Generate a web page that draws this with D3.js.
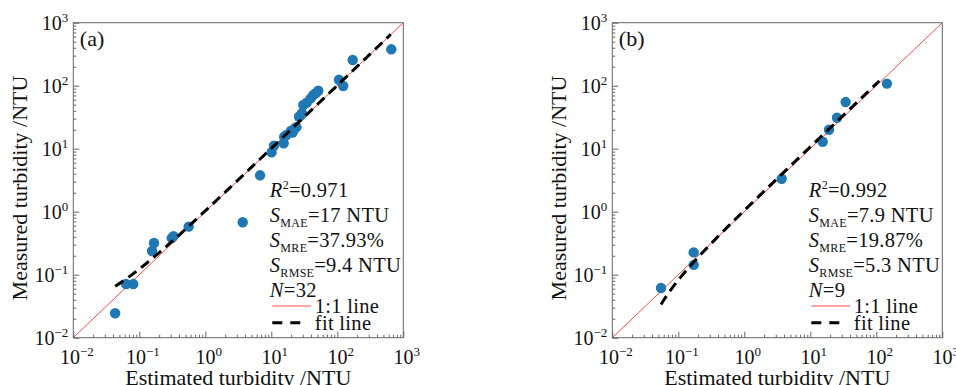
<!DOCTYPE html>
<html>
<head>
<meta charset="utf-8">
<script src="https://cdn.jsdelivr.net/npm/d3@7"></script>
<style>
  html, body { margin: 0; padding: 0; background: #fff; }
  svg { display: block; font-family: "Liberation Serif", "Times New Roman", serif; }
</style>
</head>
<body>
<svg id="chart" width="956" height="385"></svg>
<script>
// ---------------- data ----------------
const estimatedA = [0.043, 0.063, 0.081, 0.156, 0.167, 0.31, 0.33, 0.56, 3.69, 6.76,
  10.1, 11.0, 15.4, 15.7, 17.0, 19.9, 21.0, 23.1, 24.0, 26.3,
  28.0, 29.2, 30.5, 34.4, 39.5, 43.3, 47.0, 51.5, 106, 123, 171, 658];
const measuredA = [0.0244, 0.071, 0.071, 0.238, 0.318, 0.38, 0.41, 0.58, 0.68, 3.78,
  8.77, 11.2, 12.2, 15.5, 16.5, 19.3, 18.0, 21.3, 22.0, 32.2,
  34.0, 36.5, 49.4, 53.7, 63, 71, 76, 83, 124, 99, 256, 378];

const estimatedB = [0.0547, 0.171, 0.171, 3.69, 15.4, 19.2, 25.4, 34.3, 145];
const measuredB  = [0.0615, 0.226, 0.143, 3.34, 12.9, 20.0, 31.0, 55.0, 108];

// linear fit (measured = slope * estimated + intercept) and its x range
const fitA = [1.01, 0.022];
const fitRangeA = [0.043, 646];
const fitB = [1.072, -0.025];
const fitRangeB = [0.0547, 111];

const panelLabels = ["(a)", "(b)"];
const r2Values   = ["0.971", "0.992"];
const maeValues  = ["17 NTU", "7.9 NTU"];
const mreValues  = ["37.93%", "19.87%"];
const rmseValues = ["9.4 NTU", "5.3 NTU"];
const nValues    = ["32", "9"];

const axisDomain = [0.01, 1000];
const majorTicks = [0.01, 0.1, 1, 10, 100, 1000];
const tickExponents = ["\u22122", "\u22121", "0", "1", "2", "3"];
const minorMultipliers = [2, 3, 4, 5, 6, 7, 8, 9];

const xTitle = "Estimated turbidity /NTU";
const yTitle = "Measured turbidity /NTU";
const legendLabels = ["1:1 line", "fit line"];

// ---------------- layout ----------------
const svg = d3.select("#chart");
const W = 330, H = 315, TOP = 22.7;
const panels = [
  { left: 73.3, est: estimatedA, mea: measuredA, fit: fitA, fitRange: fitRangeA, i: 0 },
  { left: 612.3, est: estimatedB, mea: measuredB, fit: fitB, fitRange: fitRangeB, i: 1 }
];

const minorTicks = [];
for (let k = 0; k < majorTicks.length - 1; k++) {
  minorMultipliers.forEach(m => minorTicks.push(majorTicks[k] * m));
}

const RED = "#ff4d4d", BLUE = "#1f77b4", SPINE = "#666";

panels.forEach(p => {
  const g = svg.append("g").attr("transform", `translate(${p.left},${TOP})`);
  const x = d3.scaleLog().domain(axisDomain).range([0, W]);
  const y = d3.scaleLog().domain(axisDomain).range([H, 0]);

  const clipId = "clip" + p.i;
  g.append("clipPath").attr("id", clipId).append("rect").attr("width", W).attr("height", H);
  const plot = g.append("g").attr("clip-path", `url(#${clipId})`);

  // 1:1 line
  plot.append("line")
    .attr("x1", x(axisDomain[0])).attr("y1", y(axisDomain[0]))
    .attr("x2", x(axisDomain[1])).attr("y2", y(axisDomain[1]))
    .attr("stroke", RED).attr("stroke-width", 1);

  // points
  plot.selectAll("circle").data(p.est.map((e, j) => [e, p.mea[j]]))
    .enter().append("circle")
    .attr("cx", d => x(d[0])).attr("cy", d => y(d[1]))
    .attr("r", 5.2).attr("fill", BLUE);

  // fit line (linear fit drawn on log axes)
  const lx0 = Math.log10(p.fitRange[0]), lx1 = Math.log10(p.fitRange[1]);
  const fitPts = d3.range(0, 201).map(k => {
    const xv = Math.pow(10, lx0 + (lx1 - lx0) * k / 200);
    return [xv, p.fit[0] * xv + p.fit[1]];
  }).filter(d => d[1] > 0);
  plot.append("path")
    .attr("d", d3.line().x(d => x(d[0])).y(d => y(d[1]))(fitPts))
    .attr("fill", "none").attr("stroke", "#000").attr("stroke-width", 3)
    .attr("stroke-dasharray", "10,6");

  // frame
  g.append("rect").attr("width", W).attr("height", H)
    .attr("fill", "none").attr("stroke", SPINE).attr("stroke-width", 1);

  // axes
  const fmtLabel = (sel) => {
    sel.selectAll(".tick text").each(function(d) {
      const t = d3.select(this);
      const idx = majorTicks.indexOf(d);
      t.text(null);
      t.append("tspan").text("10");
      t.append("tspan").text(tickExponents[idx])
        .attr("font-size", "13px").attr("dy", "-0.62em");
    });
  };

  const xMajor = g.append("g").attr("transform", `translate(0,${H})`)
    .call(d3.axisBottom(x).tickValues(majorTicks).tickSizeInner(-6).tickSizeOuter(0).tickPadding(12).tickFormat(d => String(d)));
  const yMajor = g.append("g")
    .call(d3.axisLeft(y).tickValues(majorTicks).tickSizeInner(-6).tickSizeOuter(0).tickPadding(5).tickFormat(d => String(d)));
  g.append("g").attr("transform", `translate(0,${H})`)
    .call(d3.axisBottom(x).tickValues(minorTicks).tickSizeInner(-3).tickSizeOuter(0).tickFormat(""));
  g.append("g")
    .call(d3.axisLeft(y).tickValues(minorTicks).tickSizeInner(-3).tickSizeOuter(0).tickFormat(""));

  g.selectAll(".domain").remove();
  g.selectAll(".tick line").attr("stroke", SPINE);
  [xMajor, yMajor].forEach(a => a.selectAll(".tick text")
    .attr("font-family", "Liberation Serif, serif").attr("font-size", "20px").attr("fill", "#111"));
  fmtLabel(xMajor);
  fmtLabel(yMajor);
  xMajor.selectAll(".tick text").attr("dx", 3);

  // axis titles
  g.append("text").attr("x", W / 2).attr("y", 385 - TOP)
    .attr("text-anchor", "middle").attr("font-size", "22px").attr("fill", "#111")
    .text(xTitle);
  g.append("text")
    .attr("transform", `translate(-46,${188 - TOP}) rotate(-90)`)
    .attr("text-anchor", "middle").attr("font-size", "22px").attr("fill", "#111")
    .text(yTitle);

  // panel label
  g.append("text").attr("x", 6.5).attr("y", 23).attr("font-size", "22px").attr("fill", "#111")
    .text(panelLabels[p.i]);

  // statistics
  const sx = 196.5, sy0 = 174.3, dy = 25;
  const fs = "20.5px", subFs = "12px", ls = "0.3px";
  const t1 = g.append("text").attr("x", sx).attr("y", sy0).attr("font-size", fs).attr("letter-spacing", ls).attr("fill", "#111");
  t1.append("tspan").attr("font-style", "italic").text("R");
  t1.append("tspan").attr("font-size", subFs).attr("dy", "-8").text("2");
  t1.append("tspan").attr("dy", "8").text("=" + r2Values[p.i]);

  const sLines = [["MAE", maeValues[p.i]], ["MRE", mreValues[p.i]], ["RMSE", rmseValues[p.i]]];
  sLines.forEach((s, k) => {
    const t = g.append("text").attr("x", sx).attr("y", sy0 + dy * (k + 1)).attr("font-size", fs).attr("letter-spacing", ls).attr("fill", "#111");
    t.append("tspan").attr("font-style", "italic").text("S");
    t.append("tspan").attr("font-size", subFs).attr("dy", "5").text(s[0]);
    t.append("tspan").attr("dy", "-5").text("=" + s[1]);
  });
  const tn = g.append("text").attr("x", sx).attr("y", sy0 + dy * 4).attr("font-size", fs).attr("letter-spacing", ls).attr("fill", "#111");
  tn.append("tspan").attr("font-style", "italic").text("N");
  tn.append("tspan").text("=" + nValues[p.i]);

  // legend
  const lx0p = 199, lx1p = 238, ltx = 241.5;
  g.append("line").attr("x1", lx0p).attr("x2", lx1p).attr("y1", 283.3).attr("y2", 283.3)
    .attr("stroke", RED).attr("stroke-width", 1);
  g.append("text").attr("x", ltx).attr("y", 290.5).attr("font-size", fs).attr("letter-spacing", ls).attr("fill", "#111").text(legendLabels[0]);
  g.append("line").attr("x1", lx0p).attr("x2", lx1p - 10).attr("y1", 300).attr("y2", 300)
    .attr("stroke", "#000").attr("stroke-width", 3).attr("stroke-dasharray", "10,8");
  g.append("text").attr("x", ltx).attr("y", 307).attr("font-size", fs).attr("letter-spacing", ls).attr("fill", "#111").text(legendLabels[1]);
});
</script>
</body>
</html>
